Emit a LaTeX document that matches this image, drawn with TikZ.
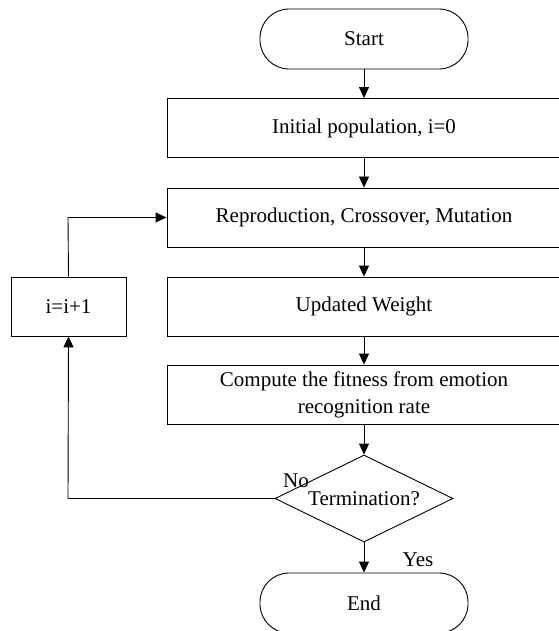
\documentclass[tikz,border=0pt]{standalone}
\usepackage{fontspec}
\setmainfont{Liberation Serif}
\usetikzlibrary{arrows.meta,shapes.geometric}
\begin{document}
\begin{tikzpicture}[x=1pt,y=-1pt,
  every node/.style={font=\fontsize{21}{27}\selectfont, inner sep=0pt},
  stepbox/.style={draw, line width=0.9pt, minimum width=394pt, minimum height=59pt, align=center},
  smallbox/.style={draw, line width=0.9pt, minimum width=115pt, minimum height=59pt},
  term/.style={draw, line width=0.9pt, rounded corners=29pt, minimum width=208pt, minimum height=60pt},
  decide/.style={draw, diamond, line width=0.9pt, minimum width=178pt, minimum height=87pt, aspect=2},
  arr/.style={line width=0.9pt, -{Triangle[length=11pt,width=10pt]}},
  lbl/.style={font=\fontsize{21}{25}\selectfont}]
\useasboundingbox (0,0) rectangle (558,631);
\node[term] (start) at (364,39) {Start};
\node[stepbox] (init) at (364,128) {Initial population, i=0};
\node[stepbox] (repro) at (364,217.5) {Reproduction, Crossover, Mutation};
\node[stepbox] (upd) at (364,306.5) {Updated Weight};
\node[stepbox] (fit) at (364,394.5) {Compute the fitness from emotion\\recognition rate};
\node[decide] (dec) at (364,498.5) {Termination?};
\node[term] (end) at (364,603) {End};
\node[smallbox] (inc) at (68.5,306.5) {i=i+1};
\node[lbl] (no) at (296,481) {No};
\node[lbl] (yes) at (418,560) {Yes};
\coordinate (c1) at (68,498.5);
\coordinate (c2) at (68,217.5);
\draw[arr] (start) -- (init);
\draw[arr] (init) -- (repro);
\draw[arr] (repro) -- (upd);
\draw[arr] (upd) -- (fit);
\draw[arr] (fit) -- (dec);
\draw[arr] (dec) -- (end);
\draw[arr] (dec.west) -- (c1) -- (inc.south);
\draw[arr] (inc.north) -- (c2) -- (repro.west);
\end{tikzpicture}
\end{document}
